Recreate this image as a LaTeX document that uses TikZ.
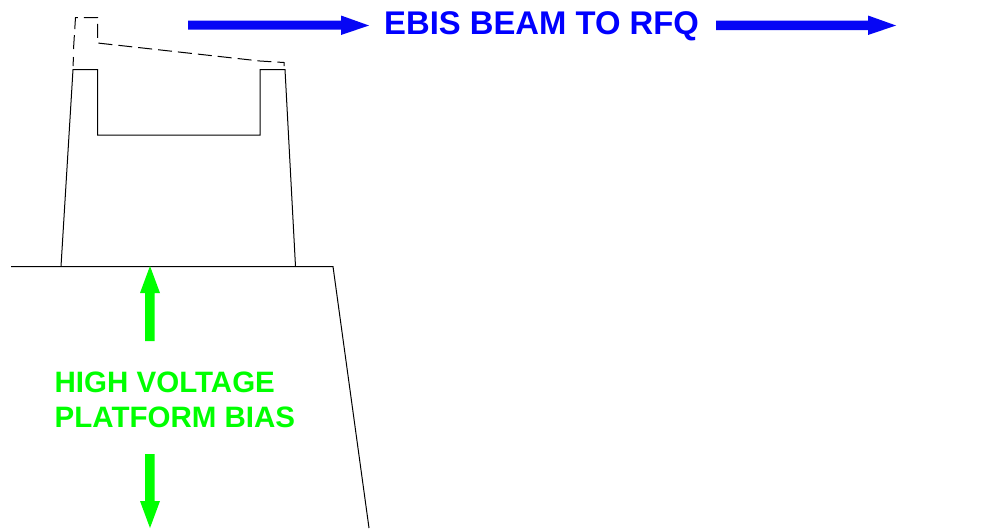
\documentclass[tikz,border=0pt]{standalone}
\usepackage{fontspec}
\setmainfont{Liberation Sans}
\definecolor{beamblue}{RGB}{0,0,255}
\definecolor{arrowblue}{RGB}{6,6,245}
\definecolor{biasgreen}{RGB}{0,255,0}
\tikzset{
  outline/.style={draw=black,line width=1pt,line join=miter},
  hidden/.style={draw=black,line width=1pt,dash pattern=on 14pt off 6pt},
  blueshaft/.style={fill=arrowblue,draw=none},
  greenshaft/.style={fill=biasgreen,draw=none},
  beamlabel/.style={text=beamblue,font=\bfseries\fontsize{32.8}{32.8}\selectfont,inner sep=0pt,anchor=base west},
  biaslabel/.style={text=biasgreen,font=\bfseries\fontsize{29.5}{29.5}\selectfont,inner sep=0pt,anchor=base west}
}
\begin{document}
\begin{tikzpicture}[x=1pt,y=-1pt]
\useasboundingbox (0,0) rectangle (992,528);
% platform
\draw[outline] (11,266.5) -- (333,266.5) -- (369,528);
% cage
\draw[outline] (61,266.5) -- (73,69.5) -- (97.5,69.5) -- (97.5,135) -- (260,135) -- (260,69.5) -- (285,69.5) -- (295.5,266.5);
% dashed outline
\draw[hidden] (73,66) -- (73.5,57);
\draw[hidden] (73.5,49) -- (75.5,17.5) -- (97.5,17.5) -- (97.5,43) -- (260,61) -- (284,62.5) -- (284,66);
% blue arrows
\fill[blueshaft] (188,20.5) -- (341,20.5) -- (341,15.5) -- (369,25.5) -- (341,35) -- (341,29.5) -- (188,29.5) -- cycle;
\fill[blueshaft] (716,20.5) -- (868,20.5) -- (868,15.5) -- (896,25.5) -- (868,35) -- (868,30) -- (716,30) -- cycle;
\node[beamlabel] (beam) at (384,34.6) {EBIS BEAM TO RFQ};
% green arrows
\fill[greenshaft] (150,266) -- (160,293) -- (154.5,293) -- (154.5,341) -- (145,341) -- (145,293) -- (140,293) -- cycle;
\fill[greenshaft] (150,528) -- (160,501) -- (154.5,501) -- (154.5,454) -- (145,454) -- (145,501) -- (140,501) -- cycle;
\node[biaslabel] (biasa) at (54.5,392.8) {HIGH VOLTAGE};
\node[biaslabel] (biasb) at (54.5,427.6) {PLATFORM BIAS};
\end{tikzpicture}
\end{document}
